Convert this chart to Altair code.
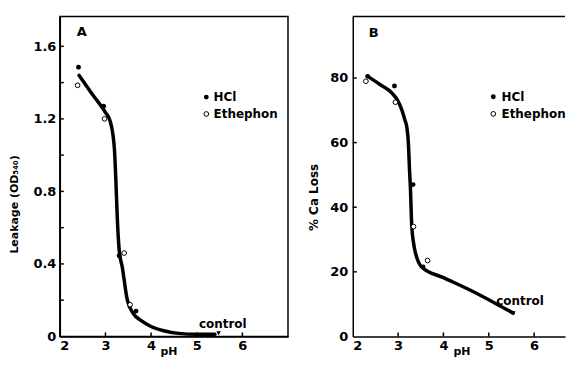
import altair as alt
import pandas as pd

# ---------------- Panel A: leakage ----------------
a_hcl_ph = [2.41, 2.96, 3.30, 3.67]
a_hcl_val = [1.485, 1.27, 0.445, 0.14]
a_eth_ph = [2.39, 2.98, 3.41, 3.54]
a_eth_val = [1.385, 1.20, 0.46, 0.175]
a_ctrl_ph = [5.48]
a_ctrl_val = [0.018]
a_curve_ph = [2.42, 2.70, 3.00, 3.10, 3.16, 3.20, 3.23, 3.26, 3.30, 3.37, 3.48, 3.60, 3.80, 4.00, 4.30, 4.60, 5.00, 5.40]
a_curve_val = [1.44, 1.34, 1.235, 1.19, 1.12, 1.02, 0.85, 0.65, 0.48, 0.38, 0.20, 0.13, 0.085, 0.055, 0.03, 0.017, 0.012, 0.012]
a_ylabels = [0, 0.4, 0.8, 1.2, 1.6]
a_yticks = [0.2, 0.4, 0.6, 0.8, 1.0, 1.2, 1.4, 1.6]

# ---------------- Panel B: Ca loss ----------------
b_hcl_ph = [2.33, 2.92, 3.33, 3.55]
b_hcl_val = [80.5, 77.5, 47.0, 21.5]
b_eth_ph = [2.29, 2.94, 3.34, 3.65]
b_eth_val = [79.0, 72.5, 34.0, 23.5]
b_ctrl_ph = [5.54]
b_ctrl_val = [7.2]
b_curve_ph = [2.33, 2.60, 2.86, 3.00, 3.08, 3.15, 3.19, 3.23, 3.25, 3.27, 3.30, 3.34, 3.38, 3.45, 3.52, 4.00, 4.55, 5.14, 5.54]
b_curve_val = [80.5, 78.0, 75.4, 72.8, 70.2, 67.0, 65.0, 59.0, 52.0, 46.5, 34.5, 29.0, 26.0, 23.0, 21.5, 18.2, 14.6, 10.3, 7.2]
b_ylabels = [0, 20, 40, 60, 80]
b_yticks = [20, 40, 60, 80]

x_labels = [2, 3, 4, 5, 6]
x_ticks = [3, 4, 5, 6]
series_names = ["HCl", "Ethephon"]

FONT = "DejaVu Sans"
W_A, W_B, H = 229, 213, 321
PX_B = 45.5


def panel(hcl_ph, hcl_val, eth_ph, eth_val, ctrl_ph, ctrl_val, curve_ph, curve_val,
          ylabels, yticks, ydomain, xdomain, width, ytitle, ytitle_x, ytitle_y,
          ytitle_size, ylabel_pad, ylabel_expr, letter, letter_pos, ctrl_pos, boxed,
          leg_dot_x, leg_txt_x, leg_y):
    ax_common = dict(labelFont=FONT, labelFontSize=13, labelFontWeight="bold",
                     labelColor="black", ticks=False, grid=False,
                     domainColor="black", domainWidth=1.5,
                     titleFont=FONT, titleFontWeight="bold", titleColor="black")
    xax = alt.Axis(values=x_labels, labelPadding=3, title="pH", titleFontSize=11,
                   titleX=109, titleY=9, titleBaseline="top", **ax_common)
    yax = alt.Axis(values=ylabels, labelPadding=ylabel_pad, labelExpr=ylabel_expr,
                   title=ytitle, titleFontSize=ytitle_size, titleX=ytitle_x,
                   titleY=ytitle_y, **ax_common)
    X = alt.X("ph:Q", scale=alt.Scale(domain=xdomain, nice=False, zero=False), axis=xax)
    Y = alt.Y("val:Q", scale=alt.Scale(domain=ydomain, nice=False), axis=yax)

    curve = alt.Chart(pd.DataFrame({"ph": curve_ph, "val": curve_val})).mark_line(
        interpolate="monotone", strokeWidth=3.5, color="black", strokeCap="round"
    ).encode(x=X, y=Y)

    hcl = alt.Chart(pd.DataFrame({"ph": hcl_ph, "val": hcl_val})).mark_point(
        filled=True, size=24, color="black", opacity=1
    ).encode(x=X, y=Y)
    eth = alt.Chart(pd.DataFrame({"ph": eth_ph, "val": eth_val})).mark_point(
        filled=True, size=22, fill="white", stroke="black", strokeWidth=1, opacity=1
    ).encode(x=X, y=Y)

    ctrl = alt.Chart(pd.DataFrame({"ph": ctrl_ph, "val": ctrl_val})).mark_point(
        shape="triangle-down", filled=True, size=22, color="black", opacity=1
    ).encode(x=X, y=Y)

    def label(text, pos, size, align="center"):
        return alt.Chart(pd.DataFrame({"t": [text]})).mark_text(
            font=FONT, fontSize=size, fontWeight="bold", color="black", align=align
        ).encode(x=alt.datum(pos[0]), y=alt.datum(pos[1]), text="t:N")

    ctrl_txt = label("control", ctrl_pos, 12)
    letter_txt = label(letter, letter_pos, 13)

    # legend (manual)
    leg_hcl = alt.Chart(pd.DataFrame({"t": [series_names[0]]})).mark_point(
        filled=True, size=24, color="black", opacity=1
    ).encode(x=alt.datum(leg_dot_x), y=alt.datum(leg_y[0]))
    leg_eth = alt.Chart(pd.DataFrame({"t": [series_names[1]]})).mark_point(
        filled=True, size=22, fill="white", stroke="black", strokeWidth=1, opacity=1
    ).encode(x=alt.datum(leg_dot_x), y=alt.datum(leg_y[1]))
    leg_t1 = label(series_names[0], (leg_txt_x, leg_y[0]), 12, "left")
    leg_t2 = label(series_names[1], (leg_txt_x, leg_y[1]), 12, "left")

    ytick_rules = alt.Chart(pd.DataFrame({"val": yticks})).mark_rule(
        color="black", strokeWidth=1.5
    ).encode(y=Y, x=alt.value(0), x2=alt.value(4))

    xtick_rules = alt.Chart(pd.DataFrame({"ph": x_ticks})).mark_rule(
        color="black", strokeWidth=1.5
    ).encode(x=X, y=alt.value(H), y2=alt.value(H - 4))

    layers = [curve, hcl, eth, ctrl, ctrl_txt, letter_txt,
              leg_hcl, leg_eth, leg_t1, leg_t2, ytick_rules, xtick_rules]
    if boxed:
        view = alt.ViewBackground(stroke="black", strokeWidth=1.5)
    else:
        view = alt.ViewBackground(stroke="transparent")
        top = alt.Chart(pd.DataFrame({"e": [0]})).mark_rule(
            color="black", strokeWidth=1.5
        ).encode(x=alt.value(0), x2=alt.value(width), y=alt.value(0))
        layers.append(top)
    return alt.layer(*layers).properties(width=width, height=H, view=view)


chart_a = panel(a_hcl_ph, a_hcl_val, a_eth_ph, a_eth_val, a_ctrl_ph, a_ctrl_val,
                a_curve_ph, a_curve_val, a_ylabels, a_yticks, [0, 1.764], [2, 7], W_A,
                "Leakage (OD\u2085\u2084\u2080)", -40, 188, 11, 4,
                "datum.value == 0 ? '0' : format(datum.value, '.1f')",
                "A", (2.48, 1.68), (5.57, 0.07), True,
                5.21, 5.37, (1.32, 1.227))

chart_b = panel(b_hcl_ph, b_hcl_val, b_eth_ph, b_eth_val, b_ctrl_ph, b_ctrl_val,
                b_curve_ph, b_curve_val, b_ylabels, b_yticks, [0, 99],
                [2, 2 + W_B / PX_B], W_B,
                "% Ca Loss", -32, 181, 12, 5,
                "format(datum.value, 'd')",
                "B", (2.46, 94), (5.69, 11), False,
                5.10, 5.28, (74.2, 68.9))

chart = alt.hconcat(chart_a, chart_b, spacing=18).properties(
    padding={"left": 0, "top": 6, "right": 0, "bottom": 0}
).configure(background="white")

chart.save("out.html", embed_options={"renderer": "svg", "actions": False})
